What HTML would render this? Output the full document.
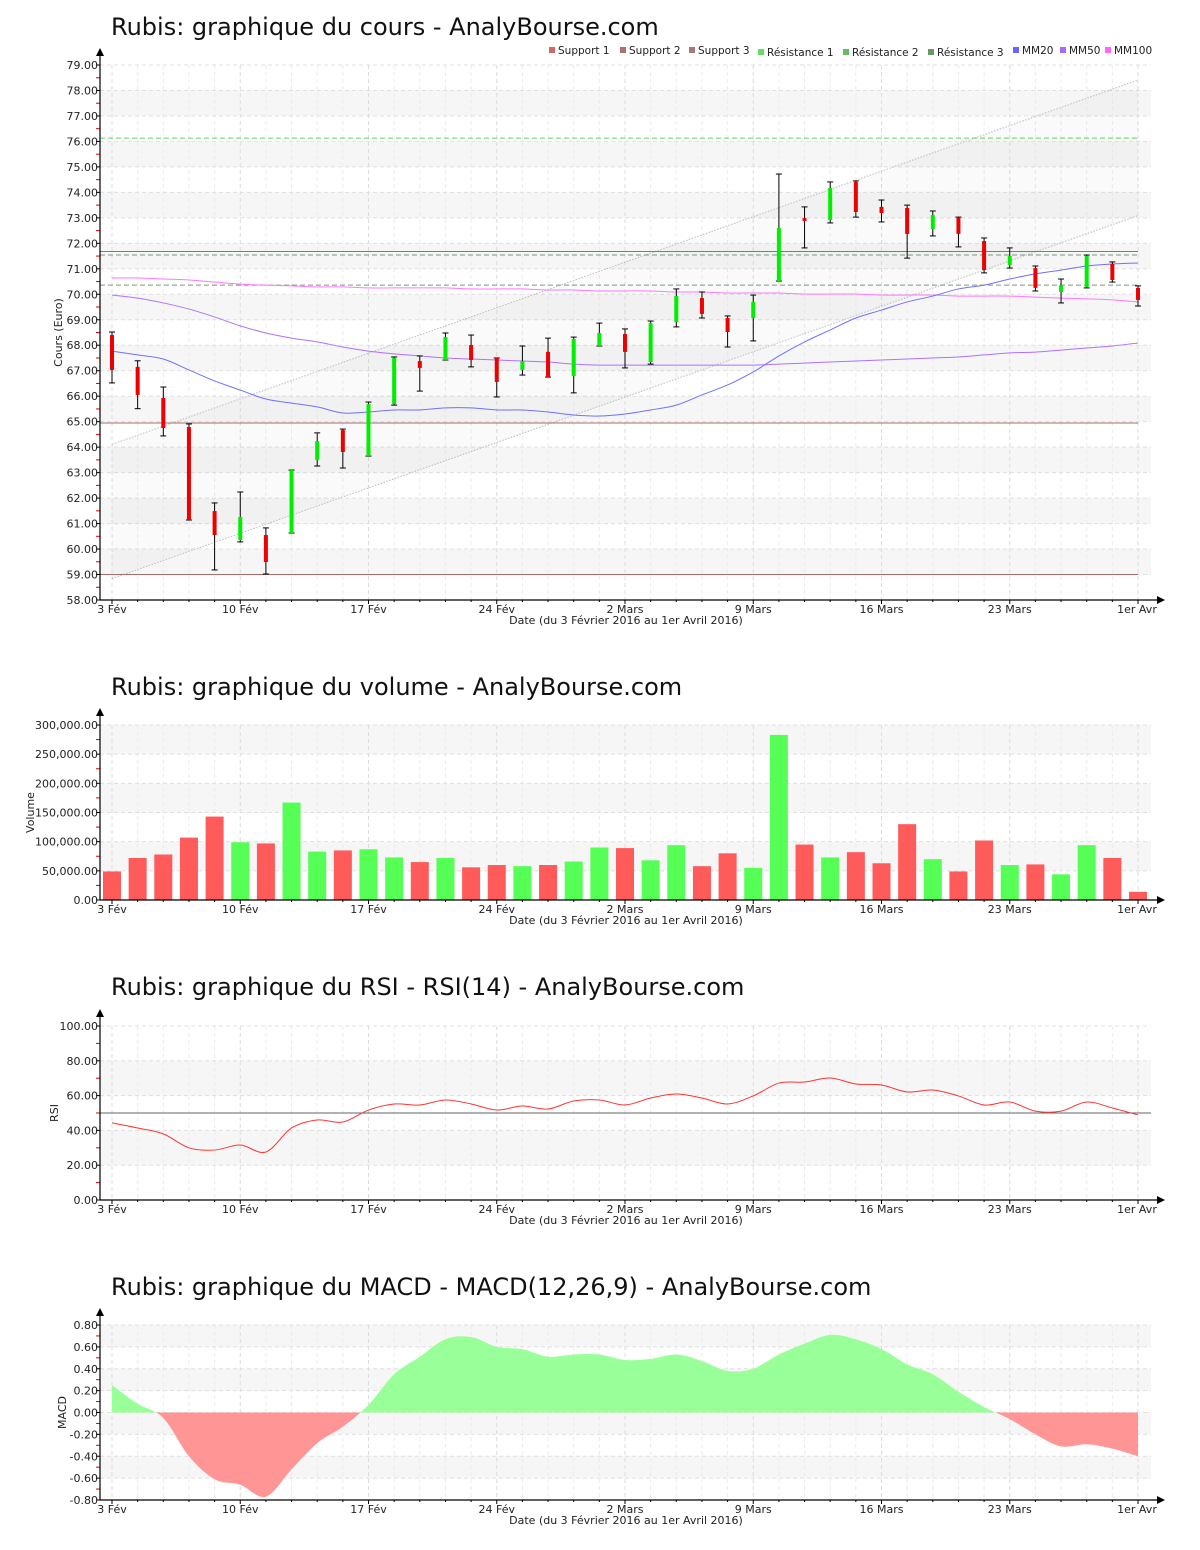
<!DOCTYPE html>
<html><head><meta charset="utf-8"><style>
html,body{margin:0;padding:0;background:#fff;}
svg{display:block;font-family:"DejaVu Sans","Liberation Sans",sans-serif;}
</style></head><body>
<svg id="svg" width="1200" height="1550" viewBox="0 0 1200 1550" xmlns="http://www.w3.org/2000/svg"></svg>
<script>
// ---- shared category data ----
const dates = ["3 Fév","4 Fév","5 Fév","8 Fév","9 Fév","10 Fév","11 Fév","12 Fév","15 Fév","16 Fév","17 Fév","18 Fév","19 Fév","22 Fév","23 Fév","24 Fév","25 Fév","26 Fév","29 Fév","1 Mars","2 Mars","3 Mars","4 Mars","7 Mars","8 Mars","9 Mars","10 Mars","11 Mars","14 Mars","15 Mars","16 Mars","17 Mars","18 Mars","21 Mars","22 Mars","23 Mars","24 Mars","29 Mars","30 Mars","31 Mars","1er Avr"];
const xLabelIdx = [0,5,10,15,20,25,30,35,40];
const xLabels = ["3 Fév","10 Fév","17 Fév","24 Fév","2 Mars","9 Mars","16 Mars","23 Mars","1er Avr"];
// ---- price chart data ----
const opens  = [68.40,67.15,65.93,64.79,61.49,60.36,60.55,60.63,63.50,64.67,63.65,65.69,67.38,67.42,68.01,67.50,67.03,67.74,66.79,67.97,68.44,67.34,68.91,69.85,69.07,69.07,70.52,72.99,72.92,74.41,73.43,73.39,72.56,73.00,72.09,71.15,71.03,70.09,70.29,71.19,70.25];
const closes = [67.03,66.05,64.75,61.14,60.55,61.26,59.49,63.10,64.24,63.81,65.69,67.50,67.11,68.32,67.42,66.56,67.38,66.75,68.25,68.48,67.74,68.87,69.93,69.23,68.52,69.70,72.60,72.88,74.17,73.23,73.19,72.37,73.11,72.37,70.95,71.50,70.25,70.36,71.50,70.56,69.78];
const highs  = [68.52,67.39,66.36,64.91,61.81,62.24,60.83,63.10,64.56,64.71,65.77,67.54,67.58,68.48,68.40,67.50,67.97,68.28,68.32,68.87,68.64,68.95,70.21,70.09,69.15,69.97,74.72,73.43,74.41,74.45,73.70,73.50,73.27,73.03,72.21,71.82,71.11,70.60,71.54,71.27,70.33];
const lows   = [66.52,65.51,64.44,61.14,59.18,60.28,59.02,60.63,63.26,63.18,63.65,65.65,66.20,67.42,67.15,65.97,66.83,66.75,66.13,67.97,67.11,67.26,68.72,69.07,67.93,68.17,70.52,71.82,72.80,73.03,72.84,71.42,72.29,71.86,70.84,71.03,70.13,69.66,70.25,70.48,69.54];
const mm20  = [67.77,67.62,67.46,67.03,66.60,66.24,65.89,65.73,65.58,65.34,65.38,65.46,65.46,65.54,65.54,65.46,65.46,65.38,65.26,65.22,65.30,65.46,65.65,66.05,66.44,66.95,67.58,68.13,68.60,69.07,69.38,69.70,69.93,70.21,70.36,70.60,70.80,70.95,71.11,71.19,71.23];
const mm50  = [69.97,69.85,69.66,69.42,69.11,68.76,68.48,68.28,68.13,67.93,67.77,67.66,67.58,67.50,67.46,67.42,67.38,67.34,67.26,67.22,67.22,67.22,67.22,67.22,67.22,67.22,67.26,67.30,67.34,67.38,67.42,67.46,67.50,67.54,67.62,67.70,67.73,67.81,67.89,67.97,68.09];
const mm100 = [70.64,70.64,70.60,70.56,70.48,70.40,70.36,70.33,70.29,70.29,70.25,70.25,70.25,70.25,70.21,70.21,70.21,70.17,70.17,70.13,70.13,70.13,70.09,70.09,70.05,70.05,70.05,70.01,70.01,70.01,69.97,69.97,69.97,69.93,69.93,69.93,69.89,69.85,69.82,69.78,69.70];
const supportLevels = [59.00,64.95,71.68];
const resistanceLevels = [70.36,71.54,76.13];
const channelUpper = [64.11,78.41];
const channelLower = [58.84,73.09];
const priceTicks = [58,59,60,61,62,63,64,65,66,67,68,69,70,71,72,73,74,75,76,77,78,79];
// ---- volume data ----
const volumes = [49000,72000,78000,107000,143000,99000,97000,167000,83000,85000,87000,73000,65000,72000,56000,60000,58000,60000,66000,90000,89000,68000,94000,58000,80000,55000,283000,95000,73000,82000,63000,130000,70000,49000,102000,60000,61000,44000,94000,72000,14000];
const volTicks = [0,50000,100000,150000,200000,250000,300000];
// ---- RSI data ----
const rsi = [44.3,41.4,38.0,30.0,28.7,31.6,27.6,41.4,46.0,44.8,51.7,55.2,54.6,57.5,55.2,51.7,54.0,52.3,56.9,57.5,54.6,58.6,60.9,58.6,55.2,59.8,67.2,67.8,70.1,66.7,66.1,62.1,63.2,59.8,54.6,56.3,51.1,51.1,56.3,52.9,48.9];
const rsiTicks = [0,20,40,60,80,100];
// ---- MACD data ----
const macd = [0.25,0.08,-0.05,-0.40,-0.61,-0.66,-0.77,-0.52,-0.28,-0.13,0.07,0.35,0.51,0.67,0.69,0.60,0.58,0.51,0.53,0.53,0.48,0.49,0.53,0.47,0.38,0.40,0.53,0.63,0.71,0.67,0.58,0.44,0.35,0.19,0.05,-0.06,-0.20,-0.31,-0.29,-0.33,-0.40];
const macdTicks = [-0.8,-0.6,-0.4,-0.2,0,0.2,0.4,0.6,0.8];

const NS="http://www.w3.org/2000/svg";
const svg=document.getElementById('svg');
function mk(tag,attrs,parent){const e=document.createElementNS(NS,tag);for(const k in attrs)e.setAttribute(k,attrs[k]);(parent||svg).appendChild(e);return e;}
const X0=100,X1=1151;
function xi(i){return 112+i*(1138-112)/40;}
function scaleY(vmin,vmax,ytop,ybot){return v=>ybot-(v-vmin)/(vmax-vmin)*(ybot-ytop);}
function smooth(pts){let d="M"+pts[0][0]+","+pts[0][1];for(let i=0;i<pts.length-1;i++){const p0=pts[i-1]||pts[i],p1=pts[i],p2=pts[i+1],p3=pts[i+2]||p2;const c1x=p1[0]+(p2[0]-p0[0])/6,c1y=p1[1]+(p2[1]-p0[1])/6,c2x=p2[0]-(p3[0]-p1[0])/6,c2y=p2[1]-(p3[1]-p1[1])/6;d+=` C${c1x},${c1y} ${c2x},${c2y} ${p2[0]},${p2[1]}`;}return d;}

function frame(g,cfg){
  const {y,ticks,fmt,bandOdd,ytop,ybot,title,titleY,ylabel,ylabelX}=cfg;
  const t=mk('text',{x:111,y:titleY,'font-size':24,fill:'#111'},g);t.textContent=title;
  
  
  for(let k=0;k<ticks.length-1;k++){ if(k%2===bandOdd){const a=y(ticks[k+1]),b=y(ticks[k]);const r=mk('rect',{x:X0,y:a,width:X1-X0,height:b-a,fill:'#f6f6f6'},g);
    
    }}
  for(let i=0;i<dates.length;i++){const maj=xLabelIdx.includes(i);const l=mk('line',{x1:xi(i),x2:xi(i),y1:ytop,y2:ybot,stroke:maj?'#dcdcdc':'#ececec','stroke-dasharray':'4,3'},g);
    
    }
  ticks.forEach((v,k)=>{const yy=y(v);const l=mk('line',{x1:X0,x2:X1,y1:yy,y2:yy,stroke:'#e0e0e0','stroke-dasharray':'4,3'},g);
    
    
    mk('line',{x1:96,x2:100,y1:yy,y2:yy,stroke:'#000'},g);
    const tx=mk('text',{x:98,y:yy+4,'font-size':11,'text-anchor':'end',fill:'#222'},g);tx.textContent=fmt(v);
    
    
    if(k<ticks.length-1){const ym=(yy+y(ticks[k+1]))/2;mk('line',{x1:96,x2:100,y1:ym,y2:ym,stroke:'#d00'},g);}
  });
  const yl=mk('text',{x:ylabelX,y:(ytop+ybot)/2,'font-size':11,'text-anchor':'middle',fill:'#222',transform:`rotate(-90 ${ylabelX} ${(ytop+ybot)/2})`},g);yl.textContent=ylabel;
  
  
}
function axes(g,ytop,ybot){
  const ya=mk('line',{x1:X0,x2:X0,y1:ybot,y2:ytop-10,stroke:'#000','stroke-width':1.2},g);
  
  
  mk('path',{d:`M${X0-4},${ytop-9} L${X0+4},${ytop-9} L${X0},${ytop-17} Z`,fill:'#000'},g);
  const xa=mk('line',{x1:X0,x2:1158,y1:ybot,y2:ybot,stroke:'#000','stroke-width':1.2},g);
  
  
  mk('path',{d:`M1157,${ybot-4} L1157,${ybot+4} L1165,${ybot} Z`,fill:'#000'},g);
  for(let i=0;i<dates.length;i++){mk('line',{x1:xi(i),x2:xi(i),y1:ybot,y2:ybot+(xLabelIdx.includes(i)?4:2),stroke:'#000'},g);}
  xLabelIdx.forEach((i,k)=>{const t=mk('text',{x:xi(i)+(k===8?-1:0),y:ybot+13,'font-size':11,'text-anchor':'middle',fill:'#222'},g);t.textContent=xLabels[k];
    
    });
  const at=mk('text',{x:626,y:ybot+24,'font-size':11,'text-anchor':'middle',fill:'#222'},g);at.textContent="Date (du 3 Février 2016 au 1er Avril 2016)";
  
  
}

// ===== Chart 1: price =====
(function(){
  const g=mk('g',{});
  
  
  const ytop=65,ybot=600,y=scaleY(58,79,ytop,ybot);
  frame(g,{y,ticks:priceTicks,fmt:v=>v.toFixed(2),bandOdd:1,ytop,ybot,title:"Rubis: graphique du cours - AnalyBourse.com",titleY:35,ylabel:"Cours (Euro)",ylabelX:62});
  const ch=mk('path',{d:`M${xi(0)},${y(channelUpper[0])} L${xi(40)},${y(channelUpper[1])} L${xi(40)},${y(channelLower[1])} L${xi(0)},${y(channelLower[0])} Z`,fill:'rgba(0,0,0,0.02)'},g);
  
  
  [channelUpper,channelLower].forEach(c=>{const l=mk('line',{x1:xi(0),y1:y(c[0]),x2:xi(40),y2:y(c[1]),stroke:'#bbb','stroke-dasharray':'1.5,1.5'},g);
    
    });
  const sc=['#a86a6a','#a86a6a','#a86a6a'];
  supportLevels.forEach((v,k)=>{const l=mk('line',{x1:X0,x2:1138,y1:y(v),y2:y(v),stroke:sc[k],'stroke-width':1},g);
    
    });
  const rc=['#7a9a7a','#7a9a7a','#66cc66'];
  resistanceLevels.forEach((v,k)=>{const l=mk('line',{x1:X0,x2:1138,y1:y(v),y2:y(v),stroke:rc[k],'stroke-dasharray':'5,3'},g);
    
    });
  [[mm100,'#ff77ff','mm100-line'],[mm50,'#b070ff','mm50-line'],[mm20,'#7070ff','mm20-line']].forEach(([arr,c,n])=>{
    const p=mk('path',{d:smooth(arr.map((v,i)=>[xi(i),y(v)])),fill:'none',stroke:c,'stroke-width':1},g);
    
    });
  for(let i=0;i<opens.length;i++){
    const x=xi(i),up=closes[i]>=opens[i];
    const w=mk('line',{x1:x,x2:x,y1:y(highs[i]),y2:y(lows[i]),stroke:'#000'},g);
    
    
    mk('line',{x1:x-3,x2:x+3,y1:y(highs[i]),y2:y(highs[i]),stroke:'#000'},g);
    mk('line',{x1:x-3,x2:x+3,y1:y(lows[i]),y2:y(lows[i]),stroke:'#000'},g);
    const top=y(Math.max(opens[i],closes[i])),bot=y(Math.min(opens[i],closes[i]));
    const b=mk('rect',{x:x-2,y:top,width:4,height:Math.max(2,bot-top),fill:up?'#00ee00':'#ee0000'},g);
    
    
  }
  axes(g,ytop,ybot);
  const items=[["Support 1","#d06666"],["Support 2","#b07070"],["Support 3","#a07a7a"],["Résistance 1","#66dd66"],["Résistance 2","#66bb66"],["Résistance 3","#669966"],["MM20","#6666ff"],["MM50","#aa66ff"],["MM100","#ff66ff"]];
  const xs=[549,620,689,758,843,928,1013,1060,1105];
  items.forEach((it,k)=>{const lg=mk('g',{},g);
    
    
    const yy=k>=3&&k<=5?54:52;
    mk('rect',{x:xs[k],y:yy-5,width:6,height:6,fill:it[1]},lg);
    const t=mk('text',{x:xs[k]+9,y:yy+2,'font-size':10.5,fill:'#222'},lg);t.textContent=it[0];});
})();

// ===== Chart 2: volume =====
(function(){
  const g=mk('g',{});
  
  
  const ytop=725,ybot=900,y=scaleY(0,300000,ytop,ybot);
  frame(g,{y,ticks:volTicks,fmt:v=>v.toLocaleString('en-US')+".00",bandOdd:1,ytop,ybot,title:"Rubis: graphique du volume - AnalyBourse.com",titleY:695,ylabel:"Volume",ylabelX:34});
  volumes.forEach((v,i)=>{const up=closes[i]>=opens[i];
    const r=mk('rect',{x:xi(i)-9,y:y(v),width:18,height:ybot-y(v),fill:up?'#55ff55':'#ff5b5b'},g);
    
    });
  axes(g,ytop,ybot);
})();

// ===== Chart 3: RSI =====
(function(){
  const g=mk('g',{});
  
  
  const ytop=1026,ybot=1200,y=scaleY(0,100,ytop,ybot);
  frame(g,{y,ticks:rsiTicks,fmt:v=>v.toFixed(2),bandOdd:1,ytop,ybot,title:"Rubis: graphique du RSI - RSI(14) - AnalyBourse.com",titleY:995,ylabel:"RSI",ylabelX:58});
  const ref=mk('line',{x1:X0,x2:X1,y1:y(50),y2:y(50),stroke:'#666'},g);
  
  
  const p=mk('path',{d:smooth(rsi.map((v,i)=>[xi(i),y(v)])),fill:'none',stroke:'#ff3333','stroke-width':1},g);
  
  
  axes(g,ytop,ybot);
})();

// ===== Chart 4: MACD =====
(function(){
  const g=mk('g',{});
  
  
  const ytop=1325,ybot=1500,y=scaleY(-0.8,0.8,ytop,ybot);
  frame(g,{y,ticks:macdTicks,fmt:v=>(Math.abs(v)<1e-9?0:v).toFixed(2),bandOdd:1,ytop,ybot,title:"Rubis: graphique du MACD - MACD(12,26,9) - AnalyBourse.com",titleY:1295,ylabel:"MACD",ylabelX:66});
  const defs=mk('defs',{},g);
  const cpA=mk('clipPath',{id:'above'},defs);mk('rect',{x:0,y:0,width:1200,height:y(0)},cpA);
  const cpB=mk('clipPath',{id:'below'},defs);mk('rect',{x:0,y:y(0),width:1200,height:400},cpB);
  const d=smooth(macd.map((v,i)=>[xi(i),y(v)]))+` L${xi(40)},${y(0)} L${xi(0)},${y(0)} Z`;
  const a=mk('path',{d,fill:'#99ff99','clip-path':'url(#above)'},g);
  
  
  const b=mk('path',{d,fill:'#ff9595','clip-path':'url(#below)'},g);
  
  
  axes(g,ytop,ybot);
})();
</script>
</body></html>
